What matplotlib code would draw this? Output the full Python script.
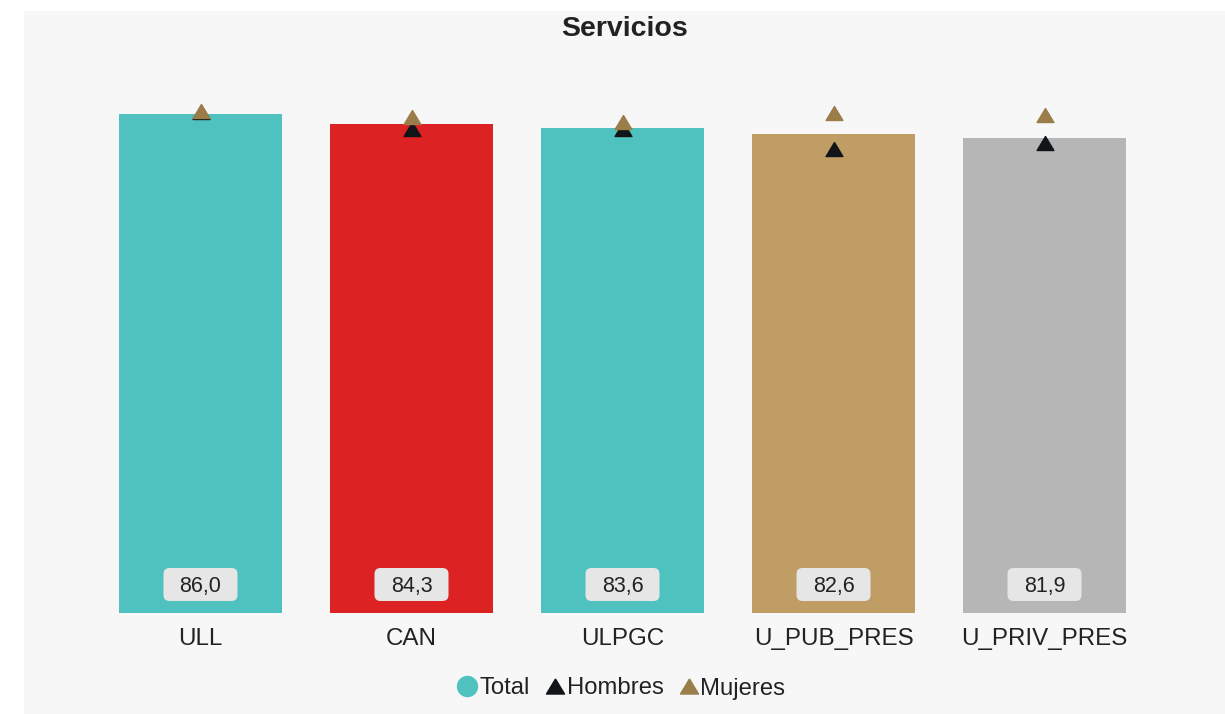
import matplotlib
matplotlib.use("Agg")
import matplotlib.pyplot as plt
from matplotlib.patches import Rectangle, FancyBboxPatch
from matplotlib.lines import Line2D
from matplotlib.transforms import ScaledTranslation

categories = ["ULL", "CAN", "ULPGC", "U_PUB_PRES", "U_PRIV_PRES"]
total = [86.0, 84.3, 83.6, 82.6, 81.9]
hombres = [86.4, 83.5, 83.5, 80.0, 81.0]
mujeres = [86.5, 85.6, 84.6, 86.2, 85.9]
bar_colors = ["#4fc2bf", "#dc2222", "#4fc2bf", "#bf9d64", "#b6b6b6"]
title = "Servicios"

plt.rcParams['font.family'] = ['Liberation Sans', 'DejaVu Sans']

W, H = 1225, 714
fig = plt.figure(figsize=(W / 100, H / 100), dpi=100)
fig.patch.set_facecolor("white")
fig.add_artist(Rectangle((24 / W, 0), 1 - 24 / W, 1 - 11 / H, transform=fig.transFigure,
                         facecolor="#f7f7f7", edgecolor="none", zorder=0))

ax_left, ax_right = 95, 1150
ax_top, ax_bottom = 33, 613
ax = fig.add_axes([ax_left / W, 1 - ax_bottom / H, (ax_right - ax_left) / W, (ax_bottom - ax_top) / H])
ax.set_facecolor("none")
x = list(range(len(categories)))
ax.bar(x, total, width=0.773, color=bar_colors, zorder=2)
tri = [(0, 1), (-1.2, -1), (1.2, -1), (0, 1)]
ax.plot(x, hombres, linestyle="none", marker=tri, markersize=12.1, color="#111418", zorder=3)
ax.plot(x, mujeres, linestyle="none", marker=tri, markersize=12.1, color="#9b7d4a", zorder=4)

for xi, v in zip(x, total):
    trans = fig.dpi_scale_trans + ScaledTranslation(xi, 0, ax.transData)
    box = FancyBboxPatch((-0.37 + 0.05, 0.12 + 0.05), 0.74 - 0.10, 0.33 - 0.10,
                         boxstyle="round,pad=0.05,rounding_size=0.06",
                         transform=trans, facecolor="#e6e6e6", edgecolor="none", zorder=5)
    ax.add_artist(box)
    ax.annotate(f"{v:.1f}".replace(".", ","), (xi, 0), xytext=(0, 19.3), textcoords="offset points",
                ha="center", va="center", fontsize=15.5, color="#222222", zorder=6)

ax.set_xlim(-0.5, len(categories) - 0.5)
ax.set_ylim(0, 100)
ax.set_xticks(x)
ax.set_xticklabels(categories, fontsize=17.4, color="#222222")
ax.tick_params(axis="x", length=0, pad=11)
ax.set_yticks([])
for s in ax.spines.values():
    s.set_visible(False)

fig.text(625 / W, 1 - 29.5 / H, title, ha="center", va="center", fontsize=20.5, fontweight="bold", color="#222222")

handles = [
    Line2D([], [], linestyle="none", marker="o", markersize=14.4, color="#4fc2bf"),
    Line2D([], [], linestyle="none", marker=tri, markersize=13, color="#111418"),
    Line2D([], [], linestyle="none", marker=tri, markersize=13, color="#9b7d4a"),
]
fig.legend(handles, ["Total", "Hombres", "Mujeres"], loc="center", bbox_to_anchor=(621 / W, 1 - 688.5 / H),
           ncol=3, frameon=False, fontsize=17.2, handlelength=0.9, handletextpad=0.05, columnspacing=0.6,
           labelcolor="#222222")

fig.savefig("out.png", dpi=100)
